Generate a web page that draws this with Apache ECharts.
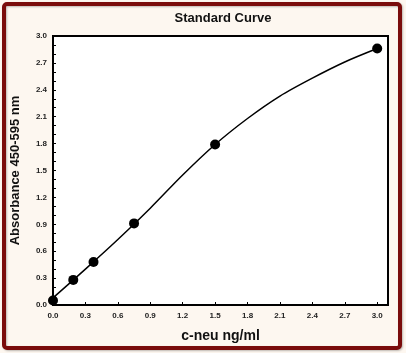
<!DOCTYPE html>
<html>
<head>
<meta charset="utf-8">
<script src="https://cdn.jsdelivr.net/npm/echarts@6/dist/echarts.min.js"></script>
<style>
  html, body { margin: 0; padding: 0; background: #fdf7f0; }
  #main { width: 406px; height: 353px; }
</style>
</head>
<body>
<div id="main"></div>
<script>
// 标准点
var conc = [0, 0.1875, 0.375, 0.75, 1.5, 3.0];
var absorb = [0.05, 0.28, 0.48, 0.91, 1.79, 2.86];
// 拟合曲线
var fitX = [0, 0.3, 0.6, 0.9, 1.2, 1.5, 1.8, 2.1, 2.4, 2.7, 3.0];
var fitY = [0.08, 0.40, 0.73, 1.08, 1.45, 1.79, 2.08, 2.33, 2.53, 2.71, 2.86];

var points = conc.map(function(x, i) { return [x, absorb[i]]; });
var fit = fitX.map(function(x, i) { return [x, fitY[i]]; });

var chart = echarts.init(document.getElementById('main'));
var labelFont = { fontFamily: 'Liberation Sans', fontWeight: 'bold', fontSize: 8, color: '#222' };

chart.setOption({
  backgroundColor: '#fdf7f0',
  animation: false,
  graphic: [{
    type: 'rect',
    shape: { x: 4, y: 4, width: 396, height: 344, r: 3 },
    style: { fill: 'none', stroke: '#7a0c0c', lineWidth: 4,
      shadowColor: 'rgba(0,0,0,0.25)', shadowOffsetX: 1, shadowOffsetY: 1, shadowBlur: 2 },
    z: 100
  }],
  title: {
    text: 'Standard Curve',
    left: 218, top: 7, textAlign: 'center',
    textStyle: { fontFamily: 'Liberation Sans', fontWeight: 'bold', fontSize: 13, color: '#111' }
  },
  grid: {
    left: 53, top: 36, right: 18, bottom: 48,
    show: true, backgroundColor: '#fff', borderColor: '#000', borderWidth: 2
  },
  xAxis: {
    type: 'value', min: 0, max: 3.1, interval: 0.3,
    name: 'c-neu ng/ml', nameLocation: 'middle', nameGap: 24,
    nameTextStyle: { fontFamily: 'Liberation Sans', fontWeight: 'bold', fontSize: 14, color: '#111' },
    axisLine: { lineStyle: { color: '#000', width: 2 } },
    axisTick: { inside: true, length: 3, lineStyle: { color: '#000' } },
    axisLabel: Object.assign({ margin: 7, formatter: function(v) { return v > 3.01 ? '' : v.toFixed(1); } }, labelFont),
    splitLine: { show: false }
  },
  yAxis: {
    type: 'value', min: 0, max: 3, interval: 0.3,
    name: 'Absorbance 450-595 nm', nameLocation: 'middle', nameGap: 31,
    nameTextStyle: { fontFamily: 'Liberation Sans', fontWeight: 'bold', fontSize: 13, color: '#111' },
    axisLine: { lineStyle: { color: '#000', width: 2 } },
    axisTick: { inside: true, length: 3, lineStyle: { color: '#000' } },
    minorTick: { show: true, splitNumber: 3, length: 3, lineStyle: { color: '#000' } },
    axisLabel: Object.assign({ margin: 6, formatter: function(v) { return v.toFixed(1); } }, labelFont),
    splitLine: { show: false }
  },
  series: [{
    type: 'line',
    data: fit,
    smooth: 0.3,
    symbol: 'none',
    lineStyle: { color: '#000', width: 1.5 }
  }, {
    type: 'scatter',
    data: points,
    symbol: 'circle',
    symbolSize: 10,
    itemStyle: { color: '#000', opacity: 1 }
  }]
});
</script>
</body>
</html>
